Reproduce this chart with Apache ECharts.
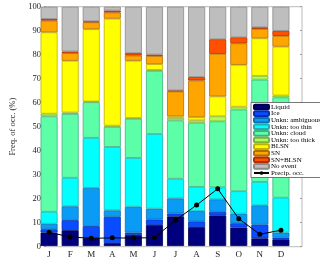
<!DOCTYPE html>
<html><head><meta charset="utf-8">
<script src="https://cdn.jsdelivr.net/npm/echarts@6/dist/echarts.min.js"></script>
<style>html,body{margin:0;padding:0;background:#fff}#c{width:320px;height:259px}</style>
</head><body><div id="c"></div>
<script>
const months = ['J','F','M','A','M','J','J','A','S','O','N','D'];
const yTicks = [0,10,20,30,40,50,60,70,80,90,100];
const liquid    = [5.6, 6.6, 3.4, 1.2, 4.6, 8.8, 12.4, 7.9, 12.8, 7.7, 3.2, 2.8];
const ice       = [1.4, 4.2, 4.9, 11.0, 1.0, 2.3, 1.2, 2.4, 1.5, 1.8, 5.7, 0.7];
const ambiguous = [2.3, 5.8, 16.0, 2.7, 10.8, 4.5, 6.3, 4.3, 5.2, 4.0, 8.1, 2.1];
const tooThin   = [5.0, 11.9, 20.9, 26.5, 20.4, 31.2, 8.2, 10.1, 5.0, 9.4, 9.8, 14.6];
const cloud     = [39.9, 26.7, 14.9, 8.4, 16.4, 26.4, 24.4, 26.8, 27.6, 34.1, 42.7, 41.9];
const tooThick  = [1.1, 0.6, 0.3, 0.5, 0.3, 0.4, 1.0, 1.0, 2.1, 1.2, 1.6, 0.8];
const blsn      = [34.0, 21.6, 30.2, 44.7, 23.9, 2.4, 0.7, 1.3, 8.3, 17.5, 15.7, 20.4];
const sn        = [4.9, 3.2, 2.9, 2.6, 2.2, 3.4, 10.4, 15.4, 17.8, 9.0, 3.9, 4.5];
const snBlsn    = [0.7, 0.7, 0.4, 0.8, 1.0, 0.6, 0.4, 1.4, 6.1, 2.5, 0.7, 2.1];
const noEvent   = [5.1, 18.7, 6.1, 1.6, 19.4, 20.0, 35.0, 29.4, 13.6, 12.8, 8.6, 10.1];
const precip    = [5.7, 3.8, 3.2, 3.4, 3.3, 3.5, 10.8, 17.1, 23.9, 11.4, 4.9, 6.6];

const names = ['Liquid','Ice','Unkn: ambiguous','Unkn: too thin','Unkn: cloud','Unkn: too thick','BLSN','SN','SN+BLSN','No event'];
const stacks = [liquid, ice, ambiguous, tooThin, cloud, tooThick, blsn, sn, snBlsn, noEvent];
const fills   = ['#00007f','#0a4cff','#0a9cf5','#00ffff','#5cffa8','#acff50','#ffff00','#ffa500','#ff5000','#bebebe'];
const borders = ['#000050','#0030b0','#0a70b0','#20b0b0','#40b080','#80b040','#c0b000','#b07000','#b03000','#8a8a8a'];

const F = 'Liberation Serif, Times New Roman, serif';
// frame grid spans 13 units; the 12 month bands sit from 0.5 to 12.5 of it
const GL = 28, GR = 18, W = 320 - GL - GR, U = W / 13;
const series = stacks.map((arr, k) => ({
  name: names[k], type: 'bar', stack: 'all', barWidth: 17,
  xAxisIndex: 1, yAxisIndex: 2,
  itemStyle: {color: fills[k], borderColor: borders[k], borderWidth: 0.8},
  data: arr
}));
series.push({
  name: 'Precip. occ.', type: 'line', xAxisIndex: 1, yAxisIndex: 2,
  symbol: 'circle', symbolSize: 5,
  lineStyle: {color: '#000', width: 1}, itemStyle: {color: '#000'},
  data: precip, z: 5
});

const chart = echarts.init(document.getElementById('c'), null, {renderer: 'canvas'});
const tick = {show: true, inside: true, length: 2, lineStyle: {color: '#999'}};
const ctick = {show: true, inside: true, length: 2, alignWithLabel: true, lineStyle: {color: '#999'}};
chart.setOption({
  animation: false,
  textStyle: {fontFamily: F},
  grid: [
    {left: GL, right: GR, top: 6.7, bottom: 12.3, show: true, borderColor: '#bbb', borderWidth: 1, z: 0},
    {left: GL + U * 0.5, right: GR + U * 0.5, top: 6.7, bottom: 12.3, show: false}
  ],
  legend: {
    orient: 'vertical', left: 251, top: 102.5,
    itemWidth: 15, itemHeight: 4.6, itemGap: -0.4,
    padding: [1, 3, 1, 2], backgroundColor: '#fff', borderColor: '#555', borderWidth: 0.8,
    textStyle: {fontFamily: F, fontSize: 7, color: '#000', padding: [0,0,0,-3]},
    data: names.concat(['Precip. occ.'])
  },
  xAxis: [{
    gridIndex: 0, type: 'value', min: 0, max: 13, show: false
  }, {
    gridIndex: 1, type: 'category', data: months, position: 'bottom',
    axisLine: {show: false}, splitLine: {show: false}, axisTick: ctick,
    axisLabel: {fontFamily: F, fontSize: 9, color: '#222', margin: 4, interval: 0}
  }, {
    gridIndex: 1, type: 'category', data: months, position: 'top',
    axisLine: {show: false}, splitLine: {show: false}, axisTick: ctick,
    axisLabel: {show: false}
  }],
  yAxis: [{
    gridIndex: 0, type: 'value', min: 0, max: 100, interval: 10, position: 'left',
    name: 'Freq. of occ. (%)', nameLocation: 'middle', nameGap: 27,
    nameTextStyle: {fontFamily: F, fontSize: 8.5, color: '#222'},
    axisLine: {show: false}, splitLine: {show: false}, axisTick: tick,
    axisLabel: {fontFamily: F, fontSize: 8.5, color: '#222', margin: 3,
      formatter: v => yTicks.includes(v) ? String(v) : ''}
  }, {
    gridIndex: 0, type: 'value', min: 0, max: 100, interval: 10, position: 'right',
    axisLine: {show: false}, splitLine: {show: false}, axisTick: tick,
    axisLabel: {show: false}
  }, {
    gridIndex: 1, type: 'value', min: 0, max: 100, show: false
  }],
  series: series
});
</script></body></html>
